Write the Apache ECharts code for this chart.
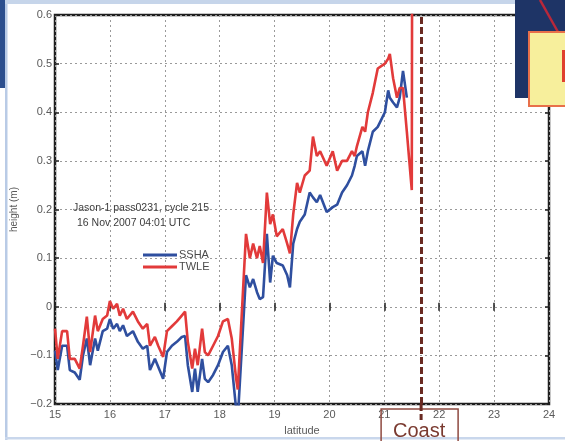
<!DOCTYPE html>
<html>
<head>
<meta charset="utf-8">
<script src="https://cdn.jsdelivr.net/npm/echarts@6/dist/echarts.min.js"></script>
<style>
  html, body { margin: 0; padding: 0; background: #ffffff; }
  #chart { width: 565px; height: 441px; }
</style>
</head>
<body>
<div id="chart"></div>
<script>
// Along-track latitude (deg) shared by both profiles
const latitude = [
  15.00, 15.05, 15.13, 15.22, 15.27, 15.36, 15.45, 15.51, 15.58, 15.64,
  15.73, 15.78, 15.87, 15.95, 16.00, 16.06, 16.13, 16.18, 16.24, 16.31,
  16.42, 16.51, 16.60, 16.68, 16.73, 16.82, 16.88, 16.97, 17.04, 17.13,
  17.22, 17.31, 17.37, 17.42, 17.50, 17.55, 17.60, 17.68, 17.73, 17.79,
  17.88, 17.97, 18.06, 18.15, 18.22, 18.30, 18.33, 18.48, 18.55, 18.61,
  18.68, 18.73, 18.79, 18.86, 18.92, 18.97, 19.04, 19.15, 19.23, 19.28,
  19.34, 19.41, 19.46, 19.55, 19.64, 19.70, 19.77, 19.83, 19.95, 20.06,
  20.14, 20.23, 20.32, 20.41, 20.46, 20.50, 20.60, 20.65, 20.70, 20.79,
  20.88, 21.01, 21.07, 21.10, 21.16, 21.23, 21.28, 21.34, 21.41, 21.50,
  21.51
];

// Sea surface height anomaly (m)
const ssha = [
  -0.09, -0.13, -0.08, -0.08, -0.13, -0.135, -0.15, -0.10, -0.065, -0.12,
  -0.065, -0.09, -0.05, -0.045, -0.025, -0.045, -0.035, -0.05, -0.038, -0.06,
  -0.05, -0.072, -0.086, -0.08, -0.13, -0.107, -0.123, -0.148, -0.093, -0.08,
  -0.072, -0.062, -0.06, -0.12, -0.175, -0.127, -0.175, -0.107, -0.148, -0.155,
  -0.14, -0.12, -0.093, -0.08, -0.12, -0.21, -0.23, 0.065, 0.04, 0.057,
  0.03, 0.016, 0.02, 0.15, 0.05, 0.105, 0.09, 0.085, 0.065, 0.04,
  0.13, 0.16, 0.175, 0.19, 0.235, 0.225, 0.215, 0.23, 0.195, 0.205,
  0.21, 0.235, 0.25, 0.27, 0.29, 0.31, 0.32, 0.29, 0.32, 0.36,
  0.37, 0.40, 0.445, 0.43, 0.42, 0.41, 0.43, 0.485, 0.43, null,
  null
];

// Total water level envelope (m)
const twle = [
  -0.045, -0.107, -0.05, -0.05, -0.107, -0.107, -0.127, -0.08, -0.02, -0.093,
  -0.018, -0.05, -0.025, -0.018, 0.012, -0.004, 0.006, -0.018, -0.004, -0.025,
  -0.01, -0.03, -0.045, -0.035, -0.08, -0.062, -0.08, -0.103, -0.05, -0.04,
  -0.03, -0.018, -0.01, -0.072, -0.127, -0.086, -0.12, -0.045, -0.093, -0.10,
  -0.08, -0.06, -0.03, -0.025, -0.065, -0.148, -0.17, 0.15, 0.10, 0.13,
  0.10, 0.125, 0.09, 0.235, 0.17, 0.19, 0.145, 0.16, 0.13, 0.11,
  0.19, 0.255, 0.235, 0.27, 0.28, 0.35, 0.31, 0.32, 0.29, 0.32,
  0.28, 0.30, 0.30, 0.32, 0.31, 0.33, 0.37, 0.36, 0.40, 0.44,
  0.49, 0.50, 0.51, 0.52, 0.47, 0.43, 0.45, 0.45, 0.36, 0.24,
  1.00
];

const xTicks = [15, 16, 17, 18, 19, 20, 21, 22, 23, 24];
const yTicks = [-0.2, -0.1, 0, 0.1, 0.2, 0.3, 0.4, 0.5, 0.6];
const coastLatitude = 21.67;
const titleLines = ['Jason-1 pass0231, cycle 215', '16 Nov 2007 04:01 UTC'];

const pairs = (vals) => latitude.map((x, i) => [x, vals[i]]);
const fmtY = (v) => {
  const r = Math.round(v * 10) / 10;
  if (r === 0) return '0';
  return r.toFixed(1).replace('-', '\u2212');
};

const tickLabel = { color: '#5a5a5a', fontSize: 11, fontFamily: 'Liberation Sans, Arial, sans-serif' };
const dotted = { show: true, lineStyle: { color: '#9a9a9a', type: [2, 3], width: 1 } };

const chart = echarts.init(document.getElementById('chart'), null, { renderer: 'canvas' });

const option = {
  animation: false,
  backgroundColor: '#ffffff',
  grid: {
    left: 55, right: 16, top: 15, bottom: 36,
    show: true, borderColor: '#1e1e1e', borderWidth: 2.5, backgroundColor: 'transparent'
  },
  xAxis: [
    {
      type: 'value', min: xTicks[0], max: xTicks[xTicks.length - 1], interval: 1,
      name: 'latitude', nameLocation: 'middle', nameGap: 19,
      nameTextStyle: { color: '#5a5a5a', fontSize: 11, fontFamily: 'Liberation Sans, Arial, sans-serif' },
      axisLine: { show: false },
      axisTick: { show: true, inside: true, length: 4, lineStyle: { color: '#1e1e1e', width: 1.5 } },
      axisLabel: Object.assign({ margin: 5 }, tickLabel),
      splitLine: dotted
    },
    {
      type: 'value', position: 'top', min: xTicks[0], max: xTicks[xTicks.length - 1], interval: 1,
      axisLine: { show: false }, axisLabel: { show: false }, splitLine: { show: false },
      axisTick: { show: true, inside: true, length: 4, lineStyle: { color: '#1e1e1e', width: 1.5 } }
    }
  ],
  yAxis: [
    {
      type: 'value', min: yTicks[0], max: yTicks[yTicks.length - 1], interval: 0.1,
      name: 'height (m)', nameLocation: 'middle', nameGap: 33, nameRotate: 90,
      nameTextStyle: { color: '#5a5a5a', fontSize: 10, fontFamily: 'Liberation Sans, Arial, sans-serif' },
      axisLine: { show: false },
      axisTick: { show: true, inside: true, length: 4, lineStyle: { color: '#1e1e1e', width: 1.5 } },
      axisLabel: Object.assign({ margin: 3, formatter: fmtY }, tickLabel),
      splitLine: dotted
    },
    {
      type: 'value', position: 'right', min: yTicks[0], max: yTicks[yTicks.length - 1], interval: 0.1,
      axisLine: { show: false }, axisLabel: { show: false }, splitLine: { show: false },
      axisTick: { show: true, inside: true, length: 4, lineStyle: { color: '#1e1e1e', width: 1.5 } }
    }
  ],
  legend: {
    left: 138, top: 244, orient: 'vertical',
    itemWidth: 34, itemHeight: 3, itemGap: 0, icon: 'rect',
    textStyle: { color: '#4a4a4a', fontSize: 11, lineHeight: 12, padding: [0, 0, 0, -3],
                 fontFamily: 'Liberation Sans, Arial, sans-serif' },
    data: ['SSHA', 'TWLE']
  },
  series: [
    {
      name: 'SSHA', type: 'line', data: pairs(ssha), showSymbol: false, symbol: 'none',
      connectNulls: false, clip: true,
      lineStyle: { color: '#2f4f9f', width: 2.6 }, itemStyle: { color: '#2f4f9f' }, z: 3
    },
    {
      name: 'TWLE', type: 'line', data: pairs(twle), showSymbol: false, symbol: 'none',
      clip: true,
      lineStyle: { color: '#e23a3a', width: 2.6 }, itemStyle: { color: '#e23a3a' }, z: 4,
      markLine: {
        silent: true, symbol: 'none', label: { show: false },
        lineStyle: { color: '#6a2a22', width: 3, type: [7, 3] },
        data: [{ xAxis: coastLatitude }]
      }
    }
  ]
};

chart.setOption(option);

// Decorations: annotation text, coast label, slide frame
const cx = chart.convertToPixel({ xAxisIndex: 0 }, coastLatitude);
const yBottom = chart.convertToPixel({ yAxisIndex: 0 }, yTicks[0]);

chart.setOption({
  graphic: [
    // slide frame
    { type: 'rect', shape: { x: 0, y: 0, width: 515, height: 4 }, style: { fill: '#c6d5ea' }, z: 1 },
    { type: 'rect', shape: { x: 0, y: 0, width: 5, height: 88 }, style: { fill: '#2c4f8e' }, z: 1 },
    { type: 'rect', shape: { x: 5, y: 4, width: 2.5, height: 436 }, style: { fill: '#b9cbe6' }, z: 1 },
    { type: 'rect', shape: { x: 5, y: 437, width: 560, height: 2.5 }, style: { fill: '#c9d7ec' }, z: 1 },
    // navy panel top-right
    { type: 'rect', shape: { x: 515, y: 0, width: 50, height: 98 }, style: { fill: '#1e3466' }, z: 20 },
    { type: 'line', shape: { x1: 540, y1: 0, x2: 558, y2: 32 }, style: { stroke: '#b8283a', lineWidth: 2.5 }, z: 21 },
    { type: 'rect', shape: { x: 529, y: 32, width: 40, height: 74 },
      style: { fill: '#f7ef9c', stroke: '#e8704a', lineWidth: 2 }, z: 22 },
    { type: 'rect', shape: { x: 562, y: 50, width: 4, height: 32 }, style: { fill: '#e0402e' }, z: 23 },
    // cruise annotation
    { type: 'text', left: 73, top: 203, z: 10,
      style: { text: titleLines[0], fill: '#3c3c3c', fontSize: 10.5,
               fontFamily: 'Liberation Sans, Arial, sans-serif' } },
    { type: 'text', left: 77, top: 218, z: 10,
      style: { text: titleLines[1], fill: '#3c3c3c', fontSize: 10.5,
               fontFamily: 'Liberation Sans, Arial, sans-serif' } },
    // coast marker extension and label box
    { type: 'line', shape: { x1: cx, y1: yBottom, x2: cx, y2: 420 },
      style: { stroke: '#6a2a22', lineWidth: 3, lineDash: [7, 3] }, z: 12 },
    { type: 'rect', shape: { x: cx - 40, y: 409, width: 77, height: 40 },
      style: { fill: 'rgba(255,255,255,0.0)', stroke: '#8e4a40', lineWidth: 1.5 }, z: 11 },
    { type: 'text', x: cx - 2, y: 431, z: 13,
      style: { text: 'Coast', fill: '#7a3a30', fontSize: 20, align: 'center', verticalAlign: 'middle',
               fontFamily: 'Liberation Sans, Arial, sans-serif' } }
  ]
});
</script>
</body>
</html>
